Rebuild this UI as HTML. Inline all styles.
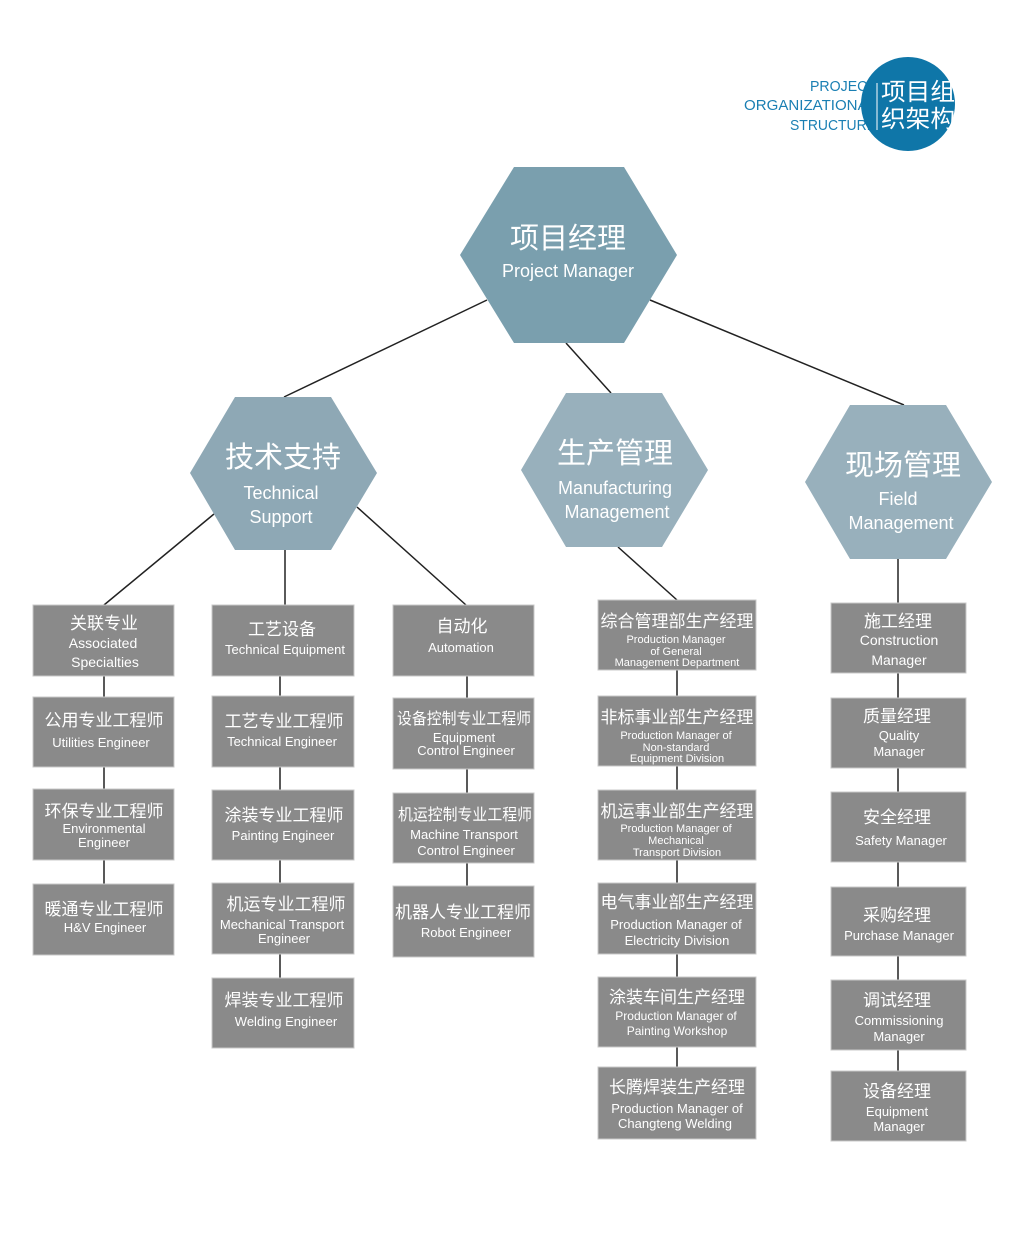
<!DOCTYPE html>
<html><head><meta charset="utf-8"><style>
body{margin:0;background:#fff;}
svg text{font-family:"Liberation Sans","Noto Sans CJK SC",sans-serif;}
</style></head><body>
<svg width="1024" height="1246" viewBox="0 0 1024 1246" xmlns="http://www.w3.org/2000/svg">
<g stroke="#222" stroke-width="1.5">
<line x1="487" y1="300" x2="284" y2="397"/>
<line x1="566" y1="343" x2="611" y2="393"/>
<line x1="650" y1="300" x2="904" y2="405"/>
<line x1="214" y1="514" x2="104" y2="605"/>
<line x1="285" y1="550" x2="285" y2="605"/>
<line x1="357" y1="507" x2="466" y2="605"/>
<line x1="618" y1="547" x2="677" y2="600"/>
<line x1="898" y1="559" x2="898" y2="603"/>
<line x1="104" y1="676" x2="104" y2="884"/>
<line x1="280" y1="676" x2="280" y2="978"/>
<line x1="467" y1="676" x2="467" y2="886"/>
<line x1="677" y1="670" x2="677" y2="1067"/>
<line x1="898" y1="673" x2="898" y2="1071"/>
</g>
<polygon points="460,255 514,167 624,167 677,255 624,343 514,343" fill="#7a9fae"/>
<polygon points="190,473 235,397 331,397 377,473 331,550 235,550" fill="#8ea8b5"/>
<polygon points="521,470 566,393 662,393 708,470 662,547 566,547" fill="#98b0bc"/>
<polygon points="805,482 850,405 946,405 992,482 946,559 850,559" fill="#98b0bc"/>
<g fill="#fff" text-anchor="middle">
<text x="568" y="248" font-size="29">项目经理</text>
<text x="568" y="277" font-size="18">Project Manager</text>
<text x="283" y="467" font-size="29">技术支持</text>
<text x="281" y="499" font-size="18">Technical</text>
<text x="281" y="523" font-size="18">Support</text>
<text x="615" y="463" font-size="29">生产管理</text>
<text x="615" y="494" font-size="18">Manufacturing</text>
<text x="617" y="518" font-size="18">Management</text>
<text x="903" y="475" font-size="29">现场管理</text>
<text x="898" y="505" font-size="18">Field</text>
<text x="901" y="529" font-size="18">Management</text>
</g>
<g fill="#8a8a8a" stroke="#c8c8c8" stroke-width="1">
<rect x="33" y="605" width="141" height="71"/><rect x="33" y="697" width="141" height="70"/><rect x="33" y="789" width="141" height="71"/><rect x="33" y="884" width="141" height="71"/>
<rect x="212" y="605" width="142" height="71"/><rect x="212" y="696" width="142" height="71"/><rect x="212" y="790" width="142" height="70"/><rect x="212" y="883" width="142" height="71"/><rect x="212" y="978" width="142" height="70"/>
<rect x="393" y="605" width="141" height="71"/><rect x="393" y="698" width="141" height="71"/><rect x="393" y="793" width="141" height="70"/><rect x="393" y="886" width="141" height="71"/>
<rect x="598" y="600" width="158" height="70"/><rect x="598" y="696" width="158" height="70"/><rect x="598" y="790" width="158" height="70"/><rect x="598" y="883" width="158" height="71"/><rect x="598" y="977" width="158" height="70"/><rect x="598" y="1067" width="158" height="72"/>
<rect x="831" y="603" width="135" height="70"/><rect x="831" y="698" width="135" height="70"/><rect x="831" y="792" width="135" height="70"/><rect x="831" y="887" width="135" height="69"/><rect x="831" y="980" width="135" height="70"/><rect x="831" y="1071" width="135" height="70"/>
</g>
<g fill="#fff" text-anchor="middle" font-size="13">
<text x="104" y="629" font-size="17">关联专业</text><text x="103" y="648" font-size="14">Associated</text><text x="105" y="667" font-size="14">Specialties</text>
<text x="104" y="726" font-size="17">公用专业工程师</text><text x="101" y="747">Utilities Engineer</text>
<text x="104" y="817" font-size="17">环保专业工程师</text><text x="104" y="833">Environmental</text><text x="104" y="847">Engineer</text>
<text x="104" y="915" font-size="17">暖通专业工程师</text><text x="105" y="932">H&amp;V Engineer</text>
<text x="282" y="635" font-size="17">工艺设备</text><text x="285" y="654">Technical Equipment</text>
<text x="284" y="727" font-size="17">工艺专业工程师</text><text x="282" y="746">Technical Engineer</text>
<text x="284" y="821" font-size="17">涂装专业工程师</text><text x="283" y="840">Painting Engineer</text>
<text x="286" y="910" font-size="17">机运专业工程师</text><text x="282" y="929">Mechanical Transport</text><text x="284" y="943">Engineer</text>
<text x="284" y="1006" font-size="17">焊装专业工程师</text><text x="286" y="1026">Welding Engineer</text>
<text x="462" y="632" font-size="17">自动化</text><text x="461" y="652">Automation</text>
<text x="464" y="724" font-size="16" textLength="134" lengthAdjust="spacingAndGlyphs">设备控制专业工程师</text><text x="464" y="742">Equipment</text><text x="466" y="755">Control Engineer</text>
<text x="465" y="820" font-size="16" textLength="134" lengthAdjust="spacingAndGlyphs">机运控制专业工程师</text><text x="464" y="839">Machine Transport</text><text x="466" y="855">Control Engineer</text>
<text x="463" y="918" font-size="17">机器人专业工程师</text><text x="466" y="937">Robot Engineer</text>
<text x="677" y="627" font-size="17">综合管理部生产经理</text><text x="676" y="643" font-size="11">Production Manager</text><text x="676" y="655" font-size="11">of General</text><text x="677" y="666" font-size="11">Management Department</text>
<text x="677" y="723" font-size="17">非标事业部生产经理</text><text x="676" y="739" font-size="11">Production Manager of</text><text x="676" y="751" font-size="11">Non-standard</text><text x="677" y="762" font-size="11">Equipment Division</text>
<text x="677" y="817" font-size="17">机运事业部生产经理</text><text x="676" y="832" font-size="11">Production Manager of</text><text x="676" y="844" font-size="11">Mechanical</text><text x="677" y="856" font-size="11">Transport Division</text>
<text x="677" y="908" font-size="17">电气事业部生产经理</text><text x="676" y="929">Production Manager of</text><text x="677" y="945">Electricity Division</text>
<text x="677" y="1003" font-size="17">涂装车间生产经理</text><text x="676" y="1020" font-size="12">Production Manager of</text><text x="677" y="1035" font-size="12">Painting Workshop</text>
<text x="677" y="1093" font-size="17">长腾焊装生产经理</text><text x="677" y="1113">Production Manager of</text><text x="675" y="1128">Changteng Welding</text>
<text x="898" y="627" font-size="17">施工经理</text><text x="899" y="645" font-size="14">Construction</text><text x="899" y="665" font-size="14">Manager</text>
<text x="897" y="722" font-size="17">质量经理</text><text x="899" y="740">Quality</text><text x="899" y="756">Manager</text>
<text x="897" y="823" font-size="17">安全经理</text><text x="901" y="845">Safety Manager</text>
<text x="897" y="921" font-size="17">采购经理</text><text x="899" y="940">Purchase Manager</text>
<text x="897" y="1006" font-size="17">调试经理</text><text x="899" y="1025">Commissioning</text><text x="899" y="1041">Manager</text>
<text x="897" y="1097" font-size="17">设备经理</text><text x="897" y="1116">Equipment</text><text x="899" y="1131">Manager</text>
</g>
<g fill="#1a7fb3" font-size="15" text-anchor="end"><text x="876" y="91" textLength="66" lengthAdjust="spacingAndGlyphs">PROJECT</text><text x="876" y="110" textLength="132" lengthAdjust="spacingAndGlyphs">ORGANIZATIONAL</text><text x="876" y="130" textLength="86" lengthAdjust="spacingAndGlyphs">STRUCTURE</text></g>
<circle cx="908" cy="104" r="47" fill="#0f76a8"/>
<line x1="877" y1="83" x2="877" y2="130" stroke="#fff" stroke-width="1"/>
<g fill="#fff" font-size="24"><text x="881" y="100" textLength="74" lengthAdjust="spacingAndGlyphs">项目组</text><text x="881" y="127" textLength="74" lengthAdjust="spacingAndGlyphs">织架构</text></g>
</svg>
</body></html>
